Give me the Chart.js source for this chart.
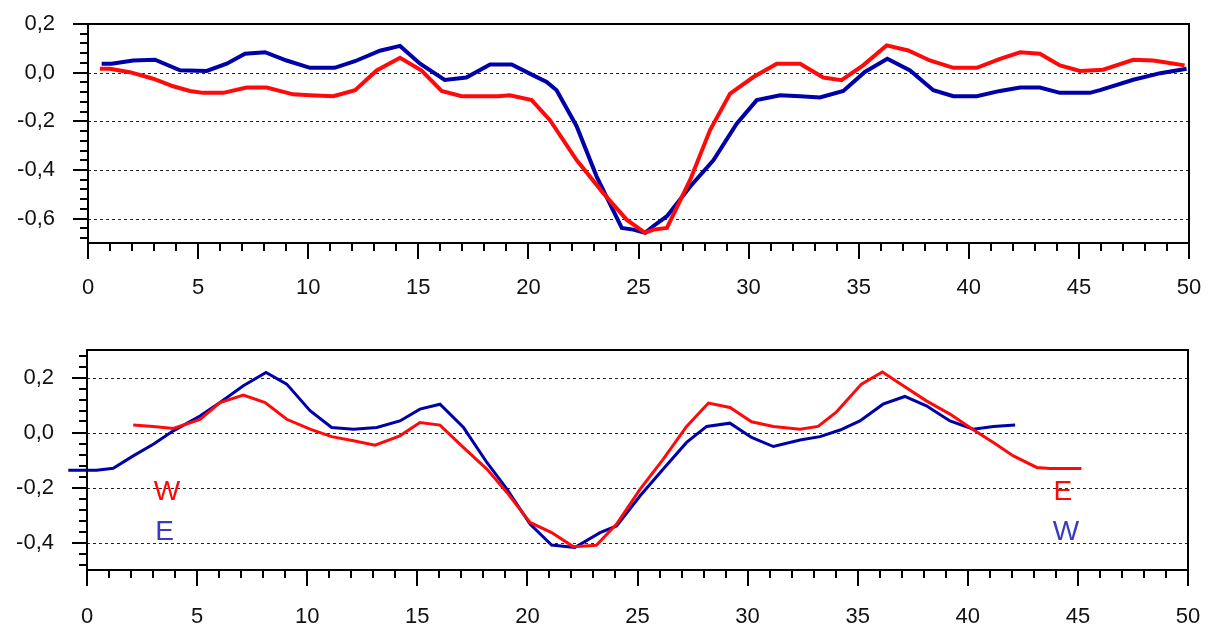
<!DOCTYPE html>
<html>
<head>
<meta charset="utf-8">
<script src="https://cdn.jsdelivr.net/npm/chart.js@4.4.0/dist/chart.umd.min.js"></script>
<style>
  html, body { margin: 0; padding: 0; background: #fff; }
  #wrap { position: relative; width: 1212px; height: 628px; }
  canvas { position: absolute; left: 0; }
  #topChart { top: 0; }
  #bottomChart { top: 310px; }
</style>
</head>
<body>
<div id="wrap">
  <canvas id="topChart" width="1212" height="300"></canvas>
  <canvas id="bottomChart" width="1212" height="318"></canvas>
</div>
<script>
// ---- top panel ----
const topRedX = [0.54, 1.0, 1.9, 2.96, 3.87, 4.63, 5.23, 6.14, 7.2, 8.11, 9.32, 10.08, 11.14, 12.13, 13.11, 14.17,
  15.15, 16.06, 16.97, 18.63, 19.16, 20.15, 20.98, 22.19, 23.4, 24.46, 25.3, 25.68, 26.29, 27.35, 28.25,
  29.16, 30.22, 31.28, 32.34, 33.39, 34.22, 35.2, 36.27, 37.25, 38.23, 39.3, 40.36, 41.42, 42.33, 43.23,
  44.14, 45.05, 46.1, 47.47, 48.38, 48.97, 49.8];
const topRedY = [0.016, 0.016, 0.002, -0.025, -0.056, -0.075, -0.083, -0.083, -0.061, -0.061, -0.089, -0.093, -0.097, -0.072, 0.009, 0.061,
  0.009, -0.075, -0.097, -0.097, -0.093, -0.113, -0.195, -0.359, -0.495, -0.604, -0.658, -0.645, -0.638, -0.44, -0.236,
  -0.086, -0.018, 0.037, 0.037, -0.02, -0.031, 0.03, 0.112, 0.091, 0.05, 0.02, 0.02, 0.057, 0.084, 0.078,
  0.03, 0.007, 0.012, 0.053, 0.05, 0.042, 0.03];
const topBlueX = [0.62, 1.07, 2.05, 3.04, 4.18, 5.39, 6.3, 7.13, 8.04, 9.02, 10.08, 11.2, 12.12, 13.26, 14.17,
  15.08, 16.2, 17.18, 18.26, 19.24, 20.22, 20.83, 21.28, 22.19, 23.1, 24.24, 24.76, 25.3, 25.68, 26.29,
  27.35, 28.4, 29.46, 30.37, 31.43, 32.34, 33.24, 34.3, 35.28, 36.3, 37.33, 38.39, 39.3, 40.36, 41.42,
  42.33, 43.23, 44.14, 45.5, 45.96, 47.47, 48.7, 49.89];
const topBlueY = [0.037, 0.037, 0.05, 0.053, 0.01, 0.007, 0.037, 0.078, 0.084, 0.05, 0.02, 0.02, 0.047, 0.09, 0.11,
  0.037, -0.03, -0.02, 0.034, 0.034, -0.011, -0.038, -0.072, -0.22, -0.427, -0.638, -0.645, -0.658, -0.63, -0.59,
  -0.468, -0.36, -0.21, -0.113, -0.093, -0.097, -0.102, -0.075, 0.003, 0.057, 0.009, -0.072, -0.097, -0.097, -0.075,
  -0.061, -0.061, -0.083, -0.083, -0.072, -0.029, -0.002, 0.016];

// ---- bottom panel ----
const botRedX = [2.1, 3.01, 3.92, 5.13, 6.04, 7.1, 8.09, 9.07, 10.13, 11.11, 12.1, 13.08, 14.21, 15.12, 16.03,
  17.1, 18.16, 19.07, 20.12, 21.1, 22.08, 23.13, 24.05, 25.12, 26.17, 27.23, 28.22, 29.2, 30.18, 31.17,
  32.38, 33.2, 34.04, 35.17, 36.12, 37.07, 38.12, 39.19, 40.25, 41.16, 42.07, 43.13, 43.73, 45.16];
const botRedY = [0.027, 0.022, 0.015, 0.048, 0.109, 0.136, 0.109, 0.048, 0.012, -0.015, -0.03, -0.046, -0.012, 0.036, 0.027,
  -0.055, -0.133, -0.218, -0.327, -0.364, -0.415, -0.41, -0.333, -0.206, -0.097, 0.022, 0.107, 0.091, 0.039, 0.022,
  0.012, 0.022, 0.075, 0.176, 0.22, 0.17, 0.115, 0.067, 0.01, -0.036, -0.085, -0.127, -0.131, -0.131];
const botBlueX = [-0.85, 0.44, 1.19, 2.1, 3.01, 3.92, 5.13, 6.04, 7.1, 8.13, 9.07, 10.13, 11.11, 12.1, 13.16,
  14.21, 15.12, 16.03, 17.1, 18.16, 19.07, 20.12, 21.1, 22.15, 23.3, 24.05, 25.12, 26.17, 27.23, 28.14,
  29.2, 30.18, 31.17, 32.38, 33.29, 34.2, 35.1, 36.15, 37.14, 38.12, 39.19, 40.25, 41.16, 42.15];
const botBlueY = [-0.137, -0.137, -0.13, -0.085, -0.043, 0.006, 0.06, 0.109, 0.17, 0.218, 0.176, 0.079, 0.018, 0.012, 0.018,
  0.042, 0.085, 0.103, 0.018, -0.109, -0.206, -0.333, -0.409, -0.418, -0.364, -0.34, -0.23, -0.133, -0.036, 0.022,
  0.034, -0.018, -0.051, -0.027, -0.015, 0.009, 0.042, 0.103, 0.131, 0.097, 0.042, 0.012, 0.022, 0.027];

// direction labels in the lower panel
const dirText = ['W', 'E', 'E', 'W'];
const dirX = [3.63, 3.52, 44.32, 44.46];
const dirY = [-0.217, -0.3625, -0.217, -0.3625];

const xTicks = [0, 5, 10, 15, 20, 25, 30, 35, 40, 45, 50];
const topYTicks = [0.2, 0, -0.2, -0.4, -0.6];
const botYTicks = [0.2, 0, -0.2, -0.4];

const RED = '#ff0a0a';
const BLUE = '#0000a8';
const FONT = 'Liberation Sans, Arial, sans-serif';

function pts(xs, ys) {
    return xs.map((x, i) => ({ x: x, y: ys[i] }));
}

// dashed grid, frame, major/minor tick marks and text labels
const framePlugin = {
    id: 'frame',
    beforeDatasetsDraw(chart, args, opts) {
        const { ctx, chartArea: a } = chart;
        const y = chart.scales.y;
        ctx.save();
        ctx.strokeStyle = '#222';
        ctx.lineWidth = 1;
        ctx.setLineDash([3, 3]);
        opts.grid.forEach(v => {
            const py = Math.round(y.getPixelForValue(v)) + 0.5;
            ctx.beginPath();
            ctx.moveTo(a.left, py);
            ctx.lineTo(a.right, py);
            ctx.stroke();
        });
        ctx.restore();
    },
    afterDatasetsDraw(chart, args, opts) {
        const { ctx, chartArea: a } = chart;
        const x = chart.scales.x, y = chart.scales.y;
        ctx.save();
        ctx.strokeStyle = '#000';
        ctx.lineWidth = 2;
        ctx.strokeRect(a.left, a.top, a.right - a.left, a.bottom - a.top);

        // x ticks: every 1, major every 5
        for (let v = 0; v <= 50; v++) {
            const px = Math.round(x.getPixelForValue(v));
            const len = v % 5 === 0 ? 16 : 8;
            ctx.beginPath();
            ctx.moveTo(px, a.bottom);
            ctx.lineTo(px, a.bottom + len);
            ctx.stroke();
        }
        // y ticks: minor every 0.04, major on labelled values
        const k0 = Math.ceil(y.min / 0.04 - 1e-6), k1 = Math.floor(y.max / 0.04 + 1e-6);
        for (let k = k0; k <= k1; k++) {
            const py = Math.round(y.getPixelForValue(k * 0.04));
            ctx.beginPath();
            ctx.moveTo(a.left - 8, py);
            ctx.lineTo(a.left, py);
            ctx.stroke();
        }
        y.ticks.forEach(t => {
            const py = Math.round(y.getPixelForValue(t.value));
            ctx.beginPath();
            ctx.moveTo(a.left - 15, py);
            ctx.lineTo(a.left, py);
            ctx.stroke();
        });

        if (opts.labels) {
            ctx.font = '28px ' + FONT;
            ctx.textAlign = 'center';
            ctx.textBaseline = 'middle';
            opts.labels.text.forEach((t, i) => {
                ctx.fillStyle = opts.labels.colors[i];
                ctx.fillText(t, x.getPixelForValue(opts.labels.x[i]), y.getPixelForValue(opts.labels.y[i]));
            });
        }
        ctx.restore();
    }
};

function makeChart(id, cfg) {
    const ctx = document.getElementById(id).getContext('2d');
    return new Chart(ctx, {
        type: 'line',
        data: {
            datasets: [{
                data: cfg.red,
                borderColor: RED,
                borderWidth: cfg.lw,
                pointRadius: 0,
                tension: 0,
                fill: false
            }, {
                data: cfg.blue,
                borderColor: BLUE,
                borderWidth: cfg.lw,
                pointRadius: 0,
                tension: 0,
                fill: false,
                clip: false
            }]
        },
        options: {
            responsive: false,
            animation: false,
            events: [],
            layout: { padding: cfg.padding },
            plugins: {
                legend: { display: false },
                tooltip: { enabled: false },
                frame: { grid: cfg.grid, labels: cfg.labels }
            },
            scales: {
                x: {
                    type: 'linear',
                    min: 0,
                    max: 50,
                    grid: { display: false, drawTicks: false },
                    border: { display: false },
                    afterBuildTicks: s => { s.ticks = xTicks.map(v => ({ value: v })); },
                    afterFit: s => {
                        s.height = cfg.xHeight;
                        s.paddingLeft = 0;
                        s.paddingRight = 0;
                    },
                    ticks: {
                        autoSkip: false,
                        maxRotation: 0,
                        padding: cfg.xPad,
                        color: '#111',
                        font: { family: FONT, size: 22 },
                        callback: v => String(v)
                    }
                },
                y: {
                    min: cfg.yMin,
                    max: cfg.yMax,
                    grid: { display: false, drawTicks: false },
                    border: { display: false },
                    afterBuildTicks: s => { s.ticks = cfg.yTicks.map(v => ({ value: v })); },
                    afterFit: s => {
                        s.width = cfg.yWidth;
                        s.paddingTop = 0;
                        s.paddingBottom = 0;
                    },
                    ticks: {
                        autoSkip: false,
                        padding: 33,
                        color: '#111',
                        font: { family: FONT, size: 22 },
                        callback: v => v.toFixed(1).replace('.', ',')
                    }
                }
            }
        },
        plugins: [framePlugin]
    });
}

document.addEventListener('DOMContentLoaded', function() {
    makeChart('topChart', {
        red: pts(topRedX, topRedY),
        blue: pts(topBlueX, topBlueY),
        lw: 4,
        yMin: -0.7, yMax: 0.2,
        yTicks: topYTicks,
        grid: [0, -0.2, -0.4, -0.6],
        padding: { left: 0, top: 24, right: 23, bottom: 0 },
        xHeight: 57, yWidth: 88, xPad: 32
    });
    makeChart('bottomChart', {
        red: pts(botRedX, botRedY),
        blue: pts(botBlueX, botBlueY),
        lw: 3,
        yMin: -0.5, yMax: 0.3,
        yTicks: botYTicks,
        grid: [0.2, 0, -0.2, -0.4],
        padding: { left: 0, top: 40, right: 24, bottom: 0 },
        xHeight: 58, yWidth: 87, xPad: 34,
        labels: { text: dirText, x: dirX, y: dirY, colors: [RED, '#3a3ac4', RED, '#3a3ac4'] }
    });
});
</script>
</body>
</html>
